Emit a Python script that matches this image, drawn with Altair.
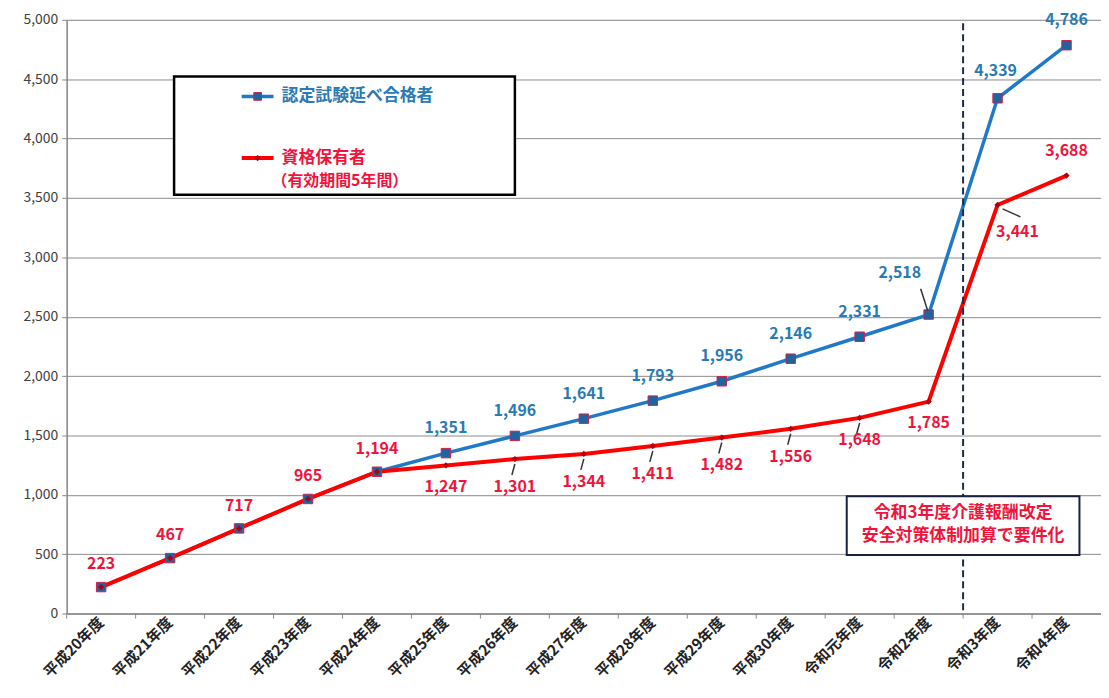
import altair as alt
import pandas as pd

categories = ["平成20年度", "平成21年度", "平成22年度", "平成23年度", "平成24年度",
              "平成25年度", "平成26年度", "平成27年度", "平成28年度", "平成29年度",
              "平成30年度", "令和元年度", "令和2年度", "令和3年度", "令和4年度"]
passers = [223, 467, 717, 965, 1194, 1351, 1496, 1641, 1793, 1956, 2146, 2331, 2518, 4339, 4786]
holders = [223, 467, 717, 965, 1194, 1247, 1301, 1344, 1411, 1482, 1556, 1648, 1785, 3441, 3688]
series_names = ["認定試験延べ合格者", "資格保有者"]
y_ticks = [0, 500, 1000, 1500, 2000, 2500, 3000, 3500, 4000, 4500, 5000]
note_lines = ["令和3年度介護報酬改定", "安全対策体制加算で要件化"]
holder_note = "（有効期間5年間）"
policy_year = "令和3年度"

BLUE = "#1f78c8"
BLUE_TXT = "#2a7ab4"
RED = "#ff0000"
RED_TXT = "#f0143c"
FONT = "Noto Sans CJK JP"
W, H = 1040, 597

blue = pd.DataFrame({"cat": categories, "value": passers, "idx": range(len(categories))})
red = pd.DataFrame({"cat": categories, "value": holders, "idx": range(len(categories))})

xscale = alt.Scale(domain=categories, paddingInner=0, paddingOuter=0)
xs = alt.X("cat:N", sort=categories, scale=xscale,
           axis=alt.Axis(title=None, labelAngle=-45, labelAlign="right", labelBaseline="middle",
                         labelFont=FONT, labelFontSize=15, labelFontWeight="bold",
                         labelColor="#222222", ticks=False, labelPadding=6,
                         domainColor="#888888", domainWidth=1.5, grid=False))
ys = alt.Y("value:Q", scale=alt.Scale(domain=[0, 5000], nice=False),
           axis=alt.Axis(title=None, values=y_ticks, format=",d", labelFont=FONT,
                         labelFontSize=14, labelColor="#404040", gridColor="#8c8c8c",
                         gridWidth=1, domainColor="#888888", domainWidth=1.5,
                         tickColor="#888888", tickSize=5, labelPadding=4))

x_plain = alt.X("cat:N", sort=categories, scale=xscale)

blue_line = alt.Chart(blue).mark_line(color=BLUE, strokeWidth=3.5).encode(x=xs, y=ys)
red_line = alt.Chart(red).mark_line(color=RED, strokeWidth=4).encode(x=x_plain, y="value:Q")
blue_pts = alt.Chart(blue).mark_point(shape="square", filled=True, size=90, fill="#1d64a0",
                                      stroke="#d0204a", strokeWidth=1, opacity=1).encode(
    x=x_plain, y="value:Q")
red_pts = alt.Chart(red).mark_point(shape="diamond", filled=True, size=40, color="#b00010",
                                    opacity=1).encode(x=x_plain, y="value:Q")

# boundary ticks on x axis
tick_df = pd.DataFrame({"cat": categories})
x_ticks = alt.Chart(tick_df).mark_rule(color="#888888", strokeWidth=1).encode(
    x=alt.X("cat:N", sort=categories, scale=xscale, bandPosition=0),
    y=alt.value(H), y2=alt.value(H + 5))

# dashed policy line
pol = pd.DataFrame({"cat": [policy_year], "top": [4970], "bottom": [0]})
policy_rule = alt.Chart(pol).mark_rule(color="#1f2a48", strokeWidth=2, strokeDash=[7, 4]).encode(
    x=alt.X("cat:N", sort=categories, scale=xscale, bandPosition=0), y="top:Q", y2="bottom:Q")

# annotation box
box = pd.DataFrame({"cat": ["令和元年度"], "c2": ["令和4年度"], "y1": [494], "y2": [988]})
note_box = alt.Chart(box).mark_rect(fill="white", stroke="#1a2040", strokeWidth=2,
                                    xOffset=-13, x2Offset=13).encode(
    x=x_plain, x2="c2", y=alt.Y("y1:Q"), y2="y2:Q")
note_df = pd.DataFrame({"cat": [policy_year], "value": [850], "t": [note_lines]})
note_text = alt.Chart(note_df).mark_text(font=FONT, fontSize=17, fontWeight="bold", color=RED_TXT,
                                         lineHeight=24, baseline="middle", align="center").encode(
    x=alt.X("cat:N", sort=categories, scale=xscale, bandPosition=0), y="value:Q", text="t")

# legend box
lg = pd.DataFrame({"cat": ["平成21年度"], "c2": ["平成26年度"], "y1": [3526], "y2": [4523]})
legend_box = alt.Chart(lg).mark_rect(fill="white", stroke="black", strokeWidth=2.5,
                                     xOffset=4, x2Offset=0).encode(
    x=x_plain, x2="c2", y="y1:Q", y2="y2:Q")
leg_items = pd.DataFrame({"name": series_names, "row": [0, 1]})
leg_blue_line = alt.Chart(leg_items.iloc[[0]]).mark_rule(color=BLUE, strokeWidth=3.5).encode(
    x=alt.value(176), x2=alt.value(208), y=alt.value(77))
leg_blue_pt = alt.Chart(leg_items.iloc[[0]]).mark_point(shape="square", filled=True, size=60,
                                                        fill="#1d64a0", stroke="#d0204a",
                                                        strokeWidth=1, opacity=1).encode(
    x=alt.value(192), y=alt.value(77))
leg_red_line = alt.Chart(leg_items.iloc[[1]]).mark_rule(color=RED, strokeWidth=4).encode(
    x=alt.value(176), x2=alt.value(208), y=alt.value(139))
leg_red_pt = alt.Chart(leg_items.iloc[[1]]).mark_point(shape="diamond", filled=True, size=40,
                                                       color="#b00010", opacity=1).encode(
    x=alt.value(192), y=alt.value(139))
leg_blue_txt = alt.Chart(leg_items.iloc[[0]]).mark_text(font=FONT, fontSize=17, fontWeight="bold",
                                                        color=BLUE_TXT, align="left",
                                                        baseline="middle").encode(
    x=alt.value(216), y=alt.value(77), text="name")
leg_red_txt = alt.Chart(leg_items.iloc[[1]]).mark_text(font=FONT, fontSize=17, fontWeight="bold",
                                                       color=RED_TXT, align="left",
                                                       baseline="middle").encode(
    x=alt.value(216), y=alt.value(139), text="name")
leg_note = pd.DataFrame({"t": [holder_note]})
leg_red_txt2 = alt.Chart(leg_note).mark_text(font=FONT, fontSize=16, fontWeight="bold",
                                             color=RED_TXT, align="left",
                                             baseline="middle").encode(
    x=alt.value(206), y=alt.value(162), text="t")


def labels(df, ids, color, dx=0, dy=0):
    return alt.Chart(df).transform_filter(
        alt.FieldOneOfPredicate(field="idx", oneOf=ids)
    ).mark_text(font=FONT, fontSize=16, fontWeight="bold", color=color, dx=dx, dy=dy,
                baseline="middle", align="center").encode(
        x=x_plain, y="value:Q", text=alt.Text("value:Q", format=",d"))


def leader(df, ids, xo, x2o, yo, y2o):
    return alt.Chart(df).transform_filter(
        alt.FieldOneOfPredicate(field="idx", oneOf=ids)
    ).mark_rule(color="#333333", strokeWidth=1.5, xOffset=xo, x2Offset=x2o,
                yOffset=yo, y2Offset=y2o).encode(
        x=x_plain, x2="cat", y="value:Q", y2="value")


layers = [
    x_ticks, blue_line, red_line, blue_pts, red_pts,
    leader(red, [6, 7, 8, 9, 10, 11], 0, -3, 5, 16),
    leader(red, [13], 5, 23, 4, 12),
    leader(blue, [12], -8, -1, -26, -4),
    labels(red, [0, 1, 2, 3, 4], RED_TXT, dy=-23),
    labels(red, [5, 11, 12], RED_TXT, dy=22),
    labels(red, [6, 7, 8, 9, 10], RED_TXT, dy=28),
    labels(red, [13], RED_TXT, dx=20, dy=27),
    labels(red, [14], RED_TXT, dy=-25),
    labels(blue, [5, 6, 7, 8, 9, 10, 11, 14], BLUE_TXT, dy=-25),
    labels(blue, [13], BLUE_TXT, dx=-2, dy=-27),
    labels(blue, [12], BLUE_TXT, dx=-29, dy=-42),
    policy_rule, note_box, note_text,
    legend_box, leg_blue_line, leg_blue_pt, leg_red_line, leg_red_pt,
    leg_blue_txt, leg_red_txt, leg_red_txt2,
]

chart = alt.layer(*layers).properties(
    width=W, height=H,
    padding={"left": 59, "top": 10, "right": 0, "bottom": 75},
    autosize=alt.AutoSizeParams(type="none"),
).configure_view(stroke=None).configure(background="white")

chart.save("out.html", embed_options={"renderer": "svg", "actions": False})
